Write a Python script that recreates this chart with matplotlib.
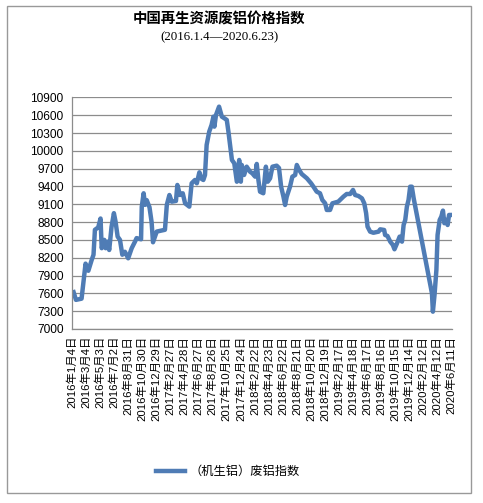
import pandas as pd
import matplotlib.pyplot as plt
from matplotlib.patches import Rectangle

# values
dates = [
    "2016-01-11", "2016-01-21", "2016-02-14", "2016-03-02", "2016-03-14", "2016-03-28",
    "2016-04-05", "2016-04-11", "2016-04-25", "2016-05-05", "2016-05-10", "2016-05-21",
    "2016-05-27", "2016-06-04", "2016-06-11", "2016-06-21", "2016-07-01", "2016-07-08",
    "2016-07-17", "2016-07-27", "2016-08-06", "2016-08-17", "2016-08-31", "2016-09-15",
    "2016-09-29", "2016-10-06", "2016-10-25", "2016-10-28", "2016-11-05", "2016-11-11",
    "2016-11-18", "2016-11-30", "2016-12-09", "2016-12-15", "2016-12-31", "2017-02-04",
    "2017-02-12", "2017-02-23", "2017-03-05", "2017-03-23", "2017-03-29", "2017-04-09",
    "2017-04-21", "2017-05-01", "2017-05-19", "2017-05-29", "2017-06-12", "2017-06-20",
    "2017-07-01", "2017-07-11", "2017-07-18", "2017-07-25", "2017-08-01", "2017-08-12",
    "2017-08-22", "2017-08-30", "2017-09-03", "2017-09-10", "2017-09-23", "2017-10-05",
    "2017-10-15", "2017-10-26", "2017-11-02", "2017-11-09", "2017-11-17", "2017-11-27",
    "2017-12-08", "2017-12-18", "2017-12-25", "2017-12-29", "2018-01-08", "2018-01-19",
    "2018-02-02", "2018-02-12", "2018-02-24", "2018-03-03", "2018-03-10", "2018-03-17",
    "2018-03-31", "2018-04-11", "2018-04-19", "2018-04-29", "2018-05-09", "2018-05-27",
    "2018-06-06", "2018-06-15", "2018-06-25", "2018-07-02", "2018-07-09", "2018-07-23",
    "2018-08-02", "2018-08-14", "2018-08-21", "2018-08-31", "2018-09-11", "2018-10-03",
    "2018-10-21", "2018-10-31", "2018-11-14", "2018-11-28", "2018-12-08", "2018-12-20",
    "2018-12-27", "2019-01-10", "2019-01-20", "2019-02-14", "2019-03-01", "2019-03-08",
    "2019-03-22", "2019-04-06", "2019-04-18", "2019-04-27", "2019-05-11", "2019-05-26",
    "2019-06-05", "2019-06-13", "2019-06-19", "2019-06-30", "2019-07-14", "2019-08-05",
    "2019-08-12", "2019-08-29", "2019-09-02", "2019-09-12", "2019-09-24", "2019-10-05",
    "2019-10-12", "2019-10-23", "2019-11-03", "2019-11-13", "2019-11-20", "2019-11-27",
    "2019-12-04", "2019-12-11", "2019-12-18", "2019-12-25", "2020-01-02", "2020-03-20",
    "2020-03-24", "2020-03-31", "2020-04-08", "2020-04-13", "2020-04-22", "2020-04-29",
    "2020-05-06", "2020-05-12", "2020-05-21", "2020-05-26", "2020-06-01", "2020-06-14",
]
values = [
    7620, 7490, 7510, 8100, 7980, 8160,
    8250, 8670, 8710, 8860, 8360, 8500,
    8360, 8470, 8330, 8720, 8950, 8810,
    8555, 8500, 8250, 8300, 8190, 8360,
    8470, 8530, 8510, 9060, 9285, 9090,
    9170, 9050, 8800, 8460, 8640, 8670,
    9090, 9256, 9144, 9156, 9425, 9256,
    9285, 9116, 9060, 9453, 9509, 9453,
    9638, 9526, 9509, 9593, 10099, 10323,
    10435, 10575, 10407, 10604, 10744, 10575,
    10550, 10520, 10323, 10099, 9846, 9790,
    9480, 9846, 9480, 9762, 9593, 9733,
    9649, 9621, 9565, 9779, 9509, 9312,
    9285, 9733, 9480, 9537, 9733, 9750,
    9710, 9396, 9228, 9088, 9228, 9396,
    9565, 9593, 9762, 9678, 9610, 9537,
    9453, 9396, 9312, 9285, 9172, 9116,
    9004, 9004, 9116, 9144, 9200, 9228,
    9273, 9273, 9341, 9256, 9240, 9200,
    9116, 8948, 8723, 8639, 8620, 8639,
    8678, 8667, 8583, 8566, 8470, 8415,
    8342, 8443, 8555, 8470, 8751, 8836,
    9060, 9172, 9396, 9396, 9200, 7600,
    7291, 7573, 7994, 8583, 8836, 8891,
    8993, 8780, 8836, 8751, 8920, 8920,
]
tick_dates = pd.date_range("2016-01-04", "2020-06-11", freq="60D")
tick_labels = [f"{d.year}年{d.month}月{d.day}日" for d in tick_dates]
y_ticks = list(range(7000, 10901, 300))

title = "中国再生资源废铝价格指数"
subtitle = "(2016.1.4—2020.6.23)"
series_name = "（机生铝）废铝指数"

x = pd.to_datetime(dates)

fig = plt.figure(figsize=(4.83, 5.03), dpi=100)
ax = fig.add_axes([0.149, 0.346, 0.787, 0.4604])

ax.plot(x, values, color="#4f7cb5", linewidth=3.2, solid_joinstyle="round",
        label=series_name)

ax.set_xlim(pd.Timestamp("2016-01-04"), pd.Timestamp("2020-06-14"))
ax.set_ylim(7000, 10900)
ax.set_yticks(y_ticks)
ax.set_xticks(tick_dates)
ax.set_xticklabels(tick_labels, rotation=90, va="top", ha="center",
                   family=["Liberation Sans", "Noto Sans CJK SC"], fontsize=8.2)
for lab in ax.get_yticklabels():
    lab.set_family("Liberation Sans")
    lab.set_fontsize(8.6)
ax.tick_params(length=0)
ax.tick_params(axis="y", pad=6)
ax.tick_params(axis="x", pad=5)

ax.grid(axis="y", color="#8c8c8c", linewidth=0.9)
ax.set_axisbelow(True)
for side in ["top", "right"]:
    ax.spines[side].set_visible(False)
for side in ["left", "bottom"]:
    ax.spines[side].set_color("#8c8c8c")
    ax.spines[side].set_linewidth(0.9)

fig.text(0.453, 0.962, title, ha="center", va="center", fontsize=10.4,
         fontweight="bold", family=["Noto Sans CJK SC"])
fig.text(0.455, 0.925, subtitle, ha="center", va="center", fontsize=9.3,
         family=["Liberation Serif", "DejaVu Serif"])

leg = fig.legend(loc="center", bbox_to_anchor=(0.472, 0.062), frameon=False,
                 prop={"family": ["Noto Sans CJK SC"], "size": 8.8},
                 handlelength=2.4, handletextpad=0.4)

# outer frame around the whole chart
fig.patches.append(Rectangle((7 / 483, 1 - 493 / 503), 464 / 483, 487 / 503,
                             transform=fig.transFigure, fill=False,
                             edgecolor="#999999", linewidth=1.0))

fig.savefig("out.png", dpi=100)
